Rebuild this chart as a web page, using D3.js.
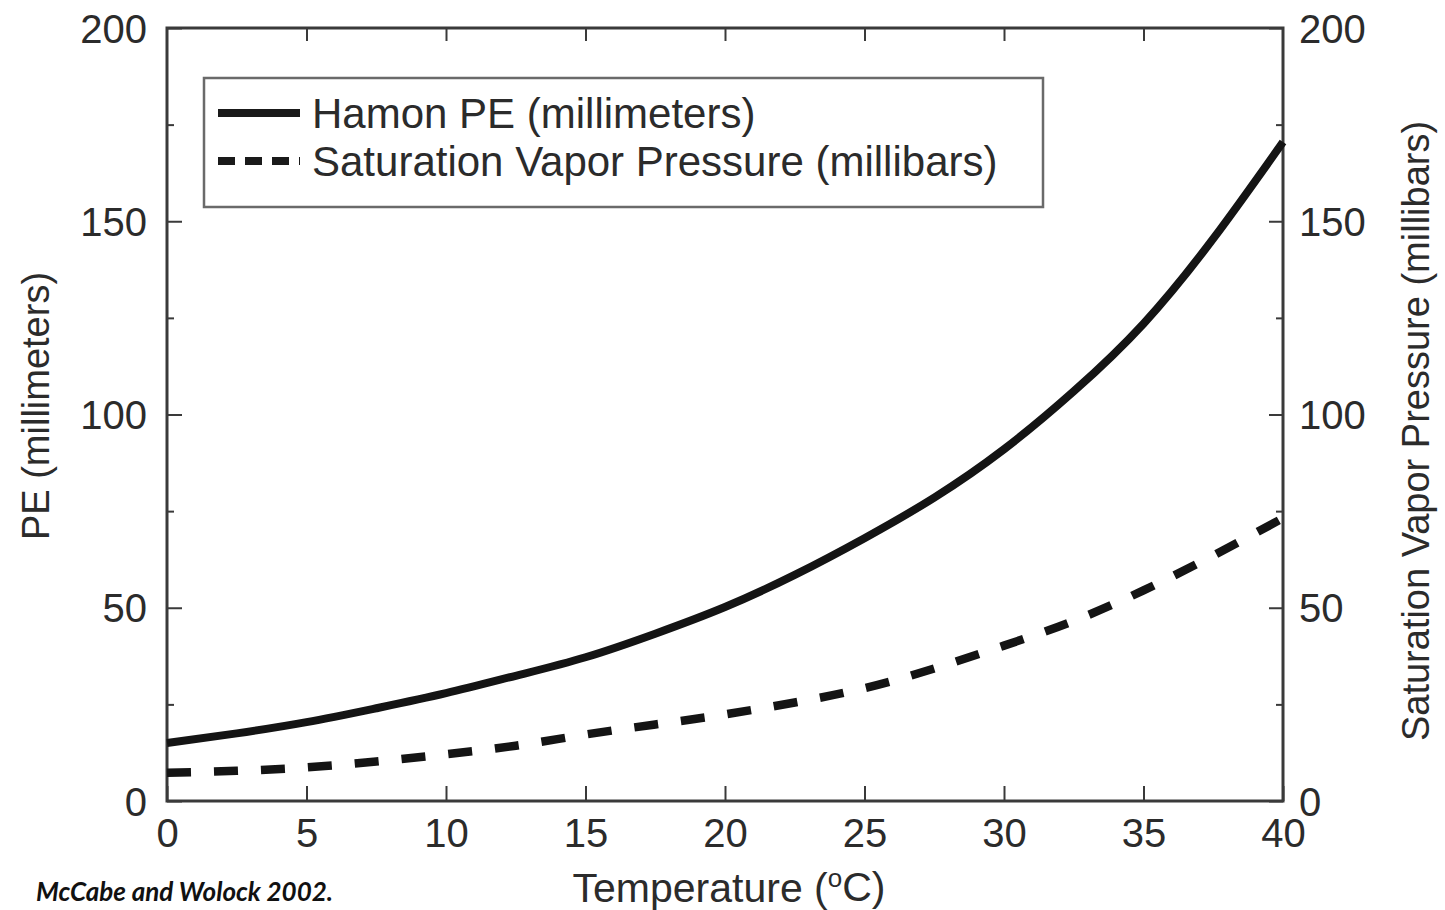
<!DOCTYPE html>
<html>
<head>
<meta charset="utf-8">
<script src="https://cdn.jsdelivr.net/npm/d3@7/dist/d3.min.js"></script>
<style>
  html, body { margin: 0; padding: 0; background: #fff; }
  svg text { font-family: "Liberation Sans", Arial, Helvetica, sans-serif; fill: #2b2b2b; }
  .caption { font-family: Lato, "Open Sans", sans-serif !important; font-weight: 700; font-style: italic; fill: #111 !important; }
</style>
</head>
<body>
<div id="chart"></div>
<script>
// data (temperature in degrees C)
const temps = [0, 2.5, 5, 7.5, 10, 12.5, 15, 17.5, 20, 22.5, 25, 27.5, 30, 32.5, 35, 37.5, 40];
const hamonPE = [15.0, 17.5, 20.4, 24.0, 27.9, 32.4, 37.2, 43.3, 50.2, 58.5, 68.0, 78.5, 91.0, 106.0, 123.5, 145.5, 170.5];
const satVapor = [7.3, 7.8, 8.7, 10.2, 12.1, 14.3, 17.2, 19.8, 22.4, 25.5, 29.2, 34.3, 40.2, 46.6, 54.5, 63.5, 73.2];

const xTicks = [0, 5, 10, 15, 20, 25, 30, 35, 40];
const yMajorTicks = [0, 50, 100, 150, 200];
const yMinorTicks = [25, 75, 125, 175];

const legendLabels = ["Hamon PE (millimeters)", "Saturation Vapor Pressure (millibars)"];

const width = 1445, height = 910;
const margin = {left: 167, right: 162, top: 28, bottom: 109};
const plotW = width - margin.left - margin.right;
const plotH = height - margin.top - margin.bottom;

const svg = d3.select("#chart").append("svg")
    .attr("width", width)
    .attr("height", height);

const x = d3.scaleLinear().domain([0, 40]).range([margin.left, margin.left + plotW]);
const yLeft = d3.scaleLinear().domain([0, 200]).range([margin.top + plotH, margin.top]);
const yRight = d3.scaleLinear().domain([0, 200]).range([margin.top + plotH, margin.top]);

const axisColor = "#3a3a3a";

// x axis bottom with inward ticks
const gx = svg.append("g")
    .attr("transform", `translate(0,${margin.top + plotH})`)
    .call(d3.axisBottom(x).tickValues(xTicks).tickSize(-15).tickPadding(0).tickSizeOuter(0));
gx.selectAll("text").attr("font-size", 40).attr("y", 46).attr("dy", 0);

// top ticks, no labels
svg.append("g")
    .attr("transform", `translate(0,${margin.top})`)
    .call(d3.axisTop(x).tickValues(xTicks.slice(1, -1)).tickSize(-13).tickFormat("").tickSizeOuter(0));

// left axis
const gyl = svg.append("g")
    .attr("transform", `translate(${margin.left},0)`)
    .call(d3.axisLeft(yLeft).tickValues(yMajorTicks).tickSize(-15).tickPadding(20).tickSizeOuter(0));
gyl.selectAll("text").attr("font-size", 40).attr("dy", "0.35em");
svg.append("g")
    .attr("transform", `translate(${margin.left},0)`)
    .call(d3.axisLeft(yLeft).tickValues(yMinorTicks).tickSize(-7).tickFormat("").tickSizeOuter(0));

// right axis
const gyr = svg.append("g")
    .attr("transform", `translate(${margin.left + plotW},0)`)
    .call(d3.axisRight(yRight).tickValues(yMajorTicks).tickSize(-14).tickPadding(16).tickSizeOuter(0));
gyr.selectAll("text").attr("font-size", 40).attr("dy", "0.35em");
svg.append("g")
    .attr("transform", `translate(${margin.left + plotW},0)`)
    .call(d3.axisRight(yRight).tickValues(yMinorTicks).tickSize(-7).tickFormat("").tickSizeOuter(0));

svg.selectAll(".domain").remove();
svg.selectAll(".tick line").attr("stroke", axisColor).attr("stroke-width", 2);
svg.selectAll(".tick text").attr("fill", "#2b2b2b").attr("font-family", "Liberation Sans, Arial, sans-serif");

// frame
svg.append("rect")
    .attr("x", margin.left)
    .attr("y", margin.top)
    .attr("width", plotW)
    .attr("height", plotH)
    .attr("fill", "none")
    .attr("stroke", axisColor)
    .attr("stroke-width", 3);

// curves
const peLine = d3.line()
    .x((d, i) => x(temps[i]))
    .y(d => yLeft(d))
    .curve(d3.curveNatural);
const svpLine = d3.line()
    .x((d, i) => x(temps[i]))
    .y(d => yRight(d))
    .curve(d3.curveNatural);

svg.append("path")
    .attr("d", peLine(hamonPE))
    .attr("fill", "none")
    .attr("stroke", "#141414")
    .attr("stroke-width", 8);

svg.append("path")
    .attr("d", svpLine(satVapor))
    .attr("fill", "none")
    .attr("stroke", "#141414")
    .attr("stroke-width", 8.5)
    .attr("stroke-dasharray", "24,23");

// legend
const legend = svg.append("g");
legend.append("rect")
    .attr("x", 204).attr("y", 78)
    .attr("width", 839).attr("height", 129)
    .attr("fill", "#fff")
    .attr("stroke", "#6a6a6a")
    .attr("stroke-width", 2.5);

const legendRows = [
    {label: legendLabels[0], dash: null, y: 113},
    {label: legendLabels[1], dash: "17,10", y: 161}
];
legendRows.forEach(r => {
    legend.append("line")
        .attr("x1", 218).attr("x2", 300)
        .attr("y1", r.y).attr("y2", r.y)
        .attr("stroke", "#1a1a1a")
        .attr("stroke-width", 8)
        .attr("stroke-dasharray", r.dash);
    legend.append("text")
        .attr("x", 312).attr("y", r.y)
        .attr("dy", "0.35em")
        .attr("font-size", 42)
        .text(r.label);
});

// axis titles
const xTitle = svg.append("text")
    .attr("x", 729).attr("y", 888)
    .attr("dy", "0.35em")
    .attr("text-anchor", "middle")
    .attr("font-size", 41);
xTitle.append("tspan").text("Temperature (");
xTitle.append("tspan").attr("font-size", 26).attr("dy", "-0.6em").text("o");
xTitle.append("tspan").attr("dy", "0.35em").text("C)");

svg.append("text")
    .attr("transform", "translate(36,406) rotate(-90)")
    .attr("dy", "0.35em")
    .attr("text-anchor", "middle")
    .attr("font-size", 38)
    .text("PE (millimeters)");

svg.append("text")
    .attr("transform", "translate(1416,431) rotate(-90)")
    .attr("dy", "0.35em")
    .attr("text-anchor", "middle")
    .attr("font-size", 38)
    .text("Saturation Vapor Pressure (millibars)");

// source note
svg.append("text")
    .attr("class", "caption")
    .attr("x", 36).attr("y", 901)
    .attr("font-size", 26)
    .text("McCabe and Wolock 2002.");
</script>
</body>
</html>
